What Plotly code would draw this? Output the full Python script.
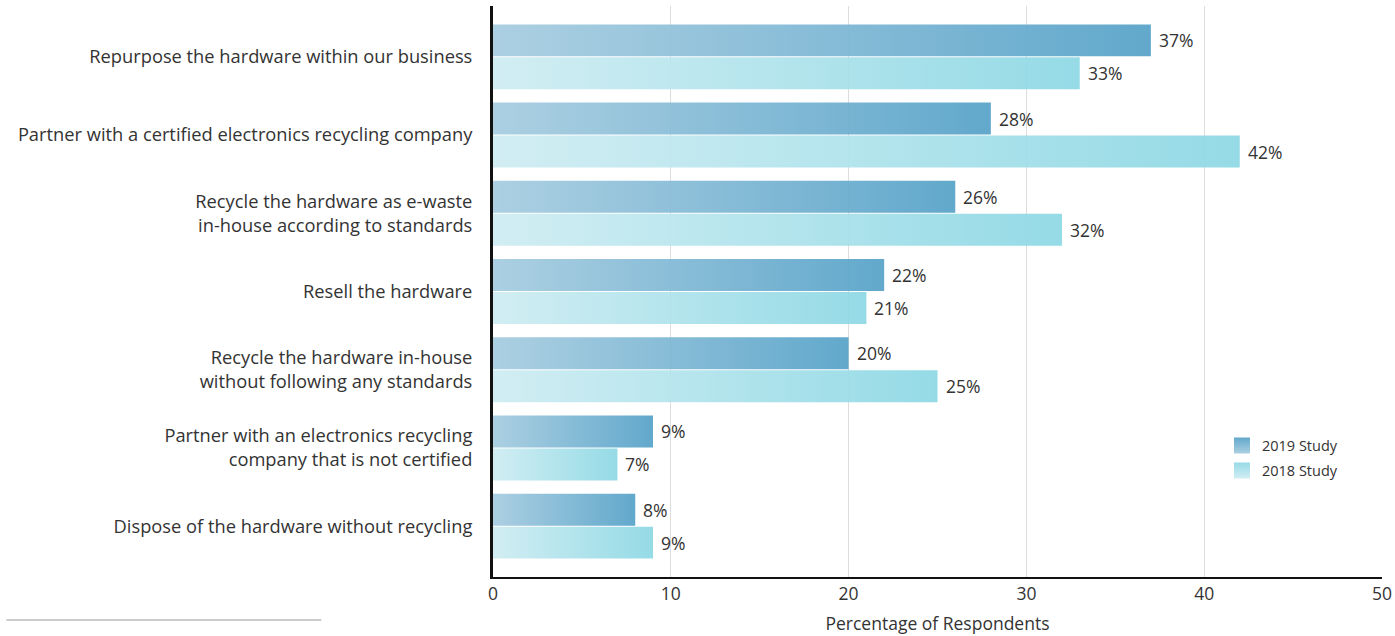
import plotly.graph_objects as go

# Survey answers, top to bottom
categories = [
    "Repurpose the hardware within our business",
    "Partner with a certified electronics recycling company",
    "Recycle the hardware as e-waste<br>in-house according to standards",
    "Resell the hardware",
    "Recycle the hardware in-house<br>without following any standards",
    "Partner with an electronics recycling<br>company that is not certified",
    "Dispose of the hardware without recycling",
]
study_2019 = [37, 28, 26, 22, 20, 9, 8]
study_2018 = [33, 42, 32, 21, 25, 7, 9]
x_ticks = [0, 10, 20, 30, 40, 50]

FONT = "Open Sans"
TEXT = "#333333"

series = [
    dict(name="2019 Study", values=study_2019, side=-1,
         grad=[[0, "rgba(166,204,224,0.93)"], [1, "rgba(86,162,200,0.93)"]]),
    dict(name="2018 Study", values=study_2018, side=1,
         grad=[[0, "rgba(206,236,242,0.93)"], [1, "rgba(141,216,228,0.93)"]]),
]

HALF = 0.415   # bar thickness in category units
GAP = 0.006    # thin white seam between the paired bars

fig = go.Figure()
annotations = []

for s in series:
    for i, v in enumerate(s["values"]):
        if s["side"] < 0:
            y0, y1 = i - HALF, i - GAP
        else:
            y0, y1 = i + GAP, i + HALF
        fig.add_trace(go.Scatter(
            x=[0, v, v, 0, 0],
            y=[y0, y0, y1, y1, y0],
            mode="lines",
            line=dict(width=0),
            fill="toself",
            fillcolor=s["grad"][1][1],
            fillgradient=dict(type="horizontal", colorscale=s["grad"]),
            name=s["name"],
            legendgroup=s["name"],
            showlegend=False,
            hoverinfo="skip",
        ))
        # value label just past the end of the bar
        annotations.append(dict(
            x=v, y=(y0 + y1) / 2, xref="x", yref="y",
            text=f"{v}%", showarrow=False,
            xanchor="left", yanchor="middle", xshift=6,
            font=dict(family=FONT, size=17.5, color=TEXT),
        ))

# legend swatches (vertical gradient squares)
for s in series:
    fig.add_trace(go.Scatter(
        x=[None], y=[None], mode="markers",
        marker=dict(symbol="square", size=18,
                    color=s["grad"][1][1],
                    gradient=dict(type="vertical", color=s["grad"][0][1])),
        name=s["name"], legendgroup=s["name"], showlegend=True,
    ))

decor = [dict(type="line", xref="paper", yref="paper",
              x0=-0.5475, x1=-0.1931, y0=-0.0753, y1=-0.0753,
              line=dict(color="#cccccc", width=2))]

fig.update_layout(
    width=1395, height=636,
    margin=dict(l=493, r=13, t=6, b=59),
    paper_bgcolor="white", plot_bgcolor="white",
    font=dict(family=FONT, size=18, color=TEXT),
    showlegend=True,
    legend=dict(x=0.82, y=0.258, xanchor="left", yanchor="top",
                font=dict(family=FONT, size=14.5, color=TEXT),
                tracegroupgap=3, itemwidth=30,
                bgcolor="rgba(0,0,0,0)"),
    xaxis=dict(range=[0, 50], tickvals=x_ticks, ticktext=[str(t) for t in x_ticks],
               automargin=False, ticklabeloverflow="allow",
               showgrid=True, gridcolor="#dddddd", gridwidth=1,
               zeroline=False, showline=True, linecolor="#111111", linewidth=2,
               ticks="", tickfont=dict(size=17.5),
               title=dict(text="Percentage of Respondents", standoff=14,
                          font=dict(size=17.5))),
    yaxis=dict(range=[6.65, -0.65], tickvals=list(range(len(categories))),
               ticktext=categories, automargin=False,
               showgrid=False, zeroline=False,
               showline=True, linecolor="#111111", linewidth=3,
               ticks="", ticklabelstandoff=14, tickfont=dict(size=18.3)),
    annotations=annotations,
    shapes=decor,
)

fig.write_html("out.html")
